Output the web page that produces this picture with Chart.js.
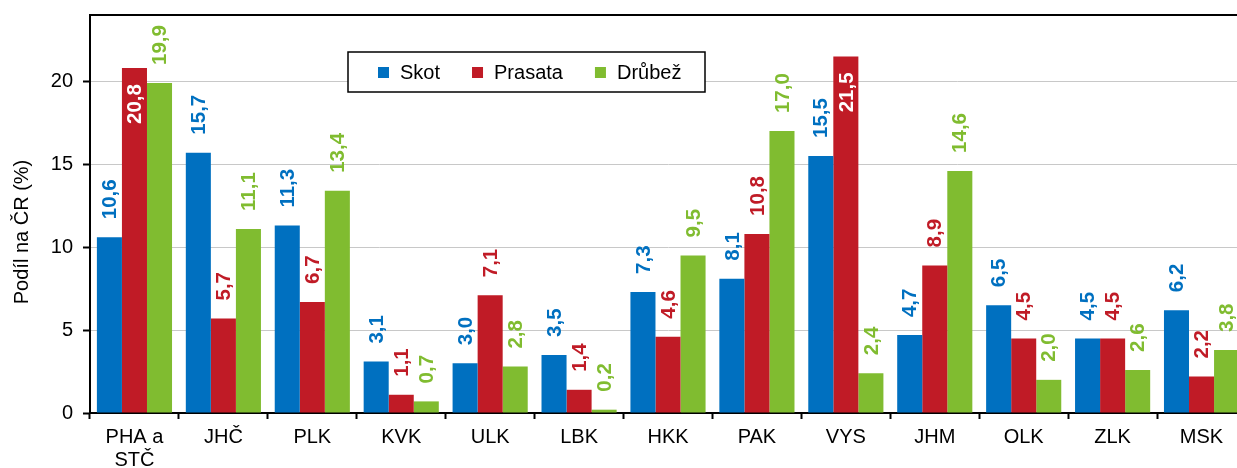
<!DOCTYPE html>
<html lang="cs">
<head>
<meta charset="utf-8">
<title>Podíl na ČR</title>
<script src="https://cdn.jsdelivr.net/npm/chart.js@4"></script>
<style>
  html, body { margin: 0; padding: 0; background: #fff; overflow: hidden; }
  #wrap { width: 1246px; height: 468px; position: relative; }
</style>
</head>
<body>
<div id="wrap"><canvas id="chart"></canvas></div>
<script>
// kraje
const kraje = [["PHA a", "STČ"], "JHČ", "PLK", "KVK", "ULK", "LBK", "HKK", "PAK", "VYS", "JHM", "OLK", "ZLK", "MSK"];

// podíly v %
const skot    = [10.6, 15.7, 11.3, 3.1, 3.0, 3.5, 7.3,  8.1, 15.5,  4.7, 6.5, 4.5, 6.2];
const prasata = [20.8,  5.7,  6.7, 1.1, 7.1, 1.4, 4.6, 10.8, 21.5,  8.9, 4.5, 4.5, 2.2];
const drubez  = [19.9, 11.1, 13.4, 0.7, 2.8, 0.2, 9.5, 17.0,  2.4, 14.6, 2.0, 2.6, 3.8];

const nazvy = ["Skot", "Prasata", "Drůbež"];
const barvy = ["#0070C0", "#C01B26", "#80BC30"];
const osaY = "Podíl na ČR (%)";

const FONT = "'Liberation Sans', Arial, Helvetica, sans-serif";

// popisky hodnot nad sloupci (otočené o 90°)
const valueLabels = {
  id: "valueLabels",
  afterDatasetsDraw(chart) {
    const ctx = chart.ctx;
    const top = chart.chartArea.top;
    ctx.save();
    ctx.font = "bold 20.5px " + FONT;
    chart.data.datasets.forEach((ds, i) => {
      const meta = chart.getDatasetMeta(i);
      meta.data.forEach((bar, j) => {
        const txt = ds.data[j].toFixed(1).replace(".", ",");
        const w = ctx.measureText(txt).width;
        const inside = bar.y - 18 - w < top;
        ctx.save();
        ctx.translate(bar.x, bar.y);
        ctx.rotate(-Math.PI / 2);
        ctx.textBaseline = "middle";
        if (inside) {
          ctx.fillStyle = "#fff";
          ctx.textAlign = "right";
          ctx.fillText(txt, -16, 1);
        } else {
          ctx.fillStyle = ds.backgroundColor;
          ctx.textAlign = "left";
          ctx.fillText(txt, 18, 1);
        }
        ctx.restore();
      });
    });
    ctx.restore();
  }
};

// horní rámeček, název osy Y a legenda v rámečku
const frameLegend = {
  id: "frameLegend",
  afterDraw(chart) {
    const ctx = chart.ctx;
    const a = chart.chartArea;
    ctx.save();
    ctx.strokeStyle = "#000";
    ctx.lineWidth = 2;
    ctx.beginPath();
    ctx.moveTo(a.left - 1, a.top);
    ctx.lineTo(a.right, a.top);
    ctx.stroke();

    // název osy Y
    ctx.save();
    ctx.translate(22, 232);
    ctx.rotate(-Math.PI / 2);
    ctx.font = "20px " + FONT;
    ctx.fillStyle = "#000";
    ctx.textAlign = "center";
    ctx.textBaseline = "middle";
    ctx.fillText(osaY, 0, 0);
    ctx.restore();

    // legenda
    const bx = 348, by = 52, bw = 357, bh = 40;
    ctx.fillStyle = "#fff";
    ctx.fillRect(bx, by, bw, bh);
    ctx.lineWidth = 1.5;
    ctx.strokeRect(bx, by, bw, bh);
    ctx.font = "20px " + FONT;
    ctx.textBaseline = "middle";
    ctx.textAlign = "left";
    let x = 378;
    const cy = by + bh / 2 + 1;
    chart.data.datasets.forEach(ds => {
      ctx.fillStyle = ds.backgroundColor;
      ctx.fillRect(x, cy - 6, 11, 11);
      ctx.fillStyle = "#000";
      ctx.fillText(ds.label, x + 22, cy);
      x += 22 + ctx.measureText(ds.label).width + 32;
    });
    ctx.restore();
  }
};

const datasets = [skot, prasata, drubez].map((d, i) => ({
  label: nazvy[i],
  data: d,
  backgroundColor: barvy[i],
  borderWidth: 0,
  categoryPercentage: 0.845,
  barPercentage: 1.0
}));

new Chart(document.getElementById("chart"), {
  type: "bar",
  data: { labels: kraje, datasets },
  plugins: [valueLabels, frameLegend],
  options: {
    responsive: true,
    maintainAspectRatio: false,
    animation: false,
    layout: { padding: { top: 15, left: 0, right: 0, bottom: 0 } },
    plugins: {
      legend: { display: false },
      tooltip: { enabled: false }
    },
    scales: {
      x: {
        grid: {
          offset: true,
          drawOnChartArea: false,
          drawTicks: true,
          tickLength: 6,
          tickColor: "#000",
          tickWidth: 2
        },
        border: { color: "#000", width: 2 },
        ticks: {
          color: "#000",
          font: { family: FONT, size: 20, lineHeight: 1.15 },
          padding: 7,
          maxRotation: 0,
          autoSkip: false
        },
        afterFit(s) { s.height = 55; s.paddingLeft = 0; s.paddingRight = 0; }
      },
      y: {
        min: 0,
        max: 24,
        ticks: {
          stepSize: 5,
          color: "#000",
          font: { family: FONT, size: 20 },
          padding: 10,
          callback: v => (v === 24 ? "" : v)
        },
        grid: {
          color: c => (c.tick && c.tick.value === 24 ? "rgba(0,0,0,0)" : "#C8C8C8"),
          tickColor: c => (c.tick && c.tick.value === 24 ? "rgba(0,0,0,0)" : "#000"),
          lineWidth: 1,
          tickWidth: 2,
          tickLength: 7
        },
        border: { color: "#000", width: 2 },
        afterFit(s) { s.width = 90; s.paddingTop = 0; s.paddingBottom = 0; }
      }
    }
  }
});
</script>
</body>
</html>
